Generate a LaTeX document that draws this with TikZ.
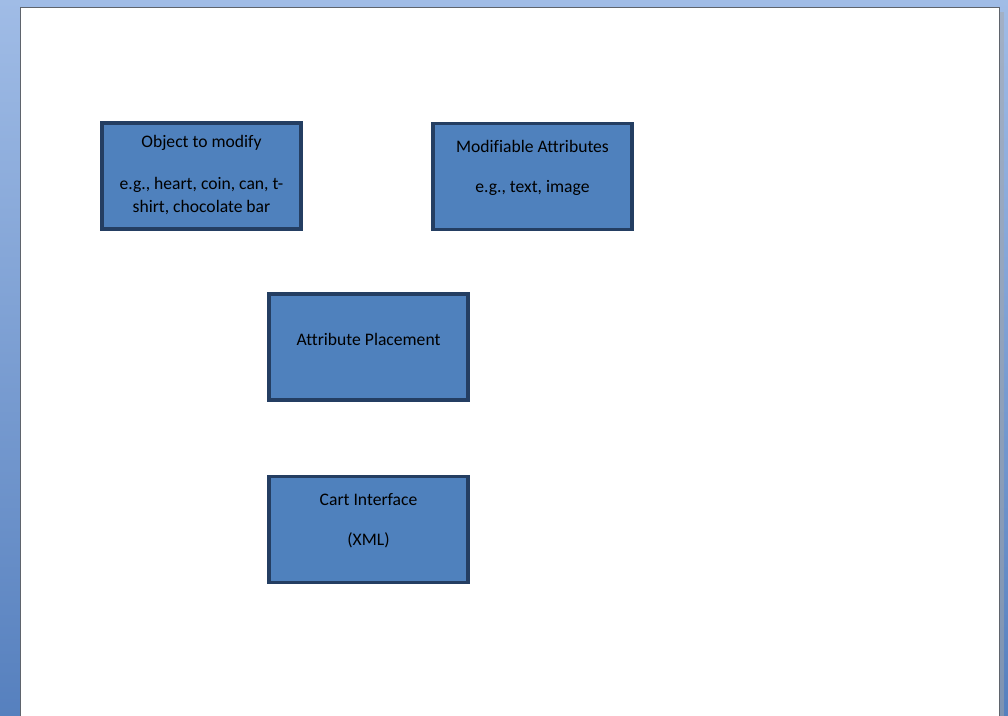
\documentclass[tikz,border=0pt]{standalone}
\usepackage{fontspec}
\setmainfont[Ligatures=NoCommon]{Carlito}
\usetikzlibrary{positioning}
\definecolor{wordbg top}{RGB}{160,188,230}
\definecolor{wordbg bot}{RGB}{86,128,190}
\definecolor{blockfill}{RGB}{79,129,189}
\definecolor{blockline}{RGB}{36,62,98}
\definecolor{pageline}{RGB}{95,100,108}
\newlength{\pxu}
\setlength{\pxu}{0.75pt}
\tikzset{
	page/.style={fill=white, draw=pageline, line width=1.2pt},
	blockbox/.style={draw=blockline, fill=blockfill, line width=2.3pt,
		minimum width=199\pxu, minimum height=106\pxu, inner sep=0pt, outer sep=0pt},
	blocktext/.style={font=\fontsize{13.2}{15}\selectfont, text=black, inner sep=0pt,
		text height=0.68em, text depth=0.2em, anchor=center}
}

\begin{document}
\begin{tikzpicture}[x=\pxu, y=-\pxu]
	\useasboundingbox (0,0) rectangle (1008,716);
	% window background and page
	\shade[top color=wordbg top, bottom color=wordbg bot] (0,0) rectangle (1008,716);
	\fill[black!35, opacity=.5] (1000,12) rectangle (1004,716);
	\draw[page] (20.5,7.5) rectangle (999.5,720);

	% blocks
	\node[blockbox] (obj) at (201.5,176) {};
	\node[blockbox] (attr) at (532.5,176.5) {};
	\node[blockbox] (place) at (368.5,347) {};
	\node[blockbox] (cart) at (368.5,529.5) {};

	% texts
	\node[blocktext] (objA) at (201.5,144) {Object to modify};
	\node[blocktext] (objB) at (201.5,186) {e.g., heart, coin, can, t-};
	\node[blocktext] (objC) at (201.5,209) {shirt, chocolate bar};
	\node[blocktext] (attrA) at (532.5,149) {Modifiable Attributes};
	\node[blocktext] (attrB) at (532.5,189) {e.g., text, image};
	\node[blocktext] (placeA) at (368.5,342) {Attribute Placement};
	\node[blocktext] (cartA) at (368.5,502) {Cart Interface};
	\node[blocktext] (cartB) at (368.5,542) {(XML)};
\end{tikzpicture}
\end{document}
